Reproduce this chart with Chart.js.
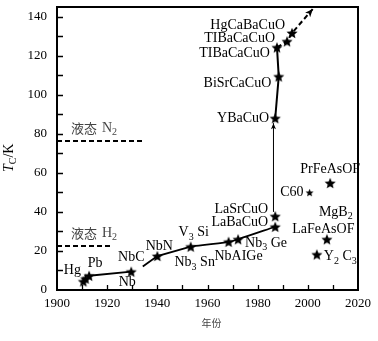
<!DOCTYPE html>
<html>
<head>
<meta charset="utf-8">
<script src="https://cdn.jsdelivr.net/npm/chart.js@4"></script>
<style>
html, body { margin: 0; padding: 0; background: #fff; }
#wrap { width: 378px; height: 341px; }
</style>
</head>
<body>
<div id="wrap"><canvas id="chart"></canvas></div>
<script>
// superconductors: year of discovery and Tc (K)
const materials = ['Hg', 'Hg', 'Pb', 'Nb', 'NbN', 'V3Si', 'NbAlGe', 'Nb3Ge', 'LaBaCuO', 'LaSrCuO',
    'YBaCuO', 'BiSrCaCuO', 'TlBaCaCuO', 'TlBaCaCuO', 'HgCaBaCuO', 'C60', 'PrFeAsOF', 'LaFeAsOF', 'Y2C3'];
const years = [1910.5, 1911.4, 1912.8, 1929.6, 1940, 1953.3, 1968.4, 1972.2, 1987, 1987,
    1987, 1988.4, 1987.7, 1991.7, 1993.7, 2000.7, 2008.9, 2007.6, 2003.6];
const tcValues = [4.4, 5.8, 7.3, 9.4, 17.4, 22.2, 24.7, 26, 32.4, 37.8,
    88, 109.4, 124.3, 127.4, 131.7, 49.9, 54.8, 26, 18.2];

// trend lines
const earlyYears = [1912.8, 1929.6];
const earlyTc = [7.3, 9.4];
const nitrideYears = [1934.2, 1940, 1953.3];
const nitrideTc = [12, 17.4, 22.2];
const a15Years = [1953.3, 1968.4, 1972.2, 1987];
const a15Tc = [22.2, 24.7, 26, 32.4];
const jumpYears = [1986.3, 1986.3];
const jumpTc = [40, 85.5];
const cuprateYears = [1987, 1988.4, 1987.7];
const cuprateTc = [88, 109.4, 124.3];
const trendYears = [1987.7, 1991.7, 1993.7, 2002];
const trendTc = [124.3, 127.4, 131.7, 144];

// liquid coolant levels
const n2Years = [1900, 1934.5];
const n2Tc = [76.3, 76.3];
const h2Years = [1900, 1921.5];
const h2Tc = [22.5, 22.5];

const xTicks = [1900, 1920, 1940, 1960, 1980, 2000, 2020];
const yTicks = [0, 20, 40, 60, 80, 100, 120, 140];

const serif = "'Liberation Serif', 'Times New Roman', serif";
const cjk = "'Noto Sans CJK SC', sans-serif";

function pts(xs, ys) {
    return xs.map((x, i) => ({ x: x, y: ys[i] }));
}

function starImage(r) {
    const c = document.createElement('canvas');
    const s = Math.ceil(r * 2) + 2;
    c.width = c.height = s;
    const g = c.getContext('2d');
    g.translate(s / 2, s / 2 + r * 0.1);
    g.beginPath();
    for (let i = 0; i < 10; i++) {
        const rad = i % 2 ? r * 0.45 : r;
        const a = -Math.PI / 2 + i * Math.PI / 5;
        g.lineTo(rad * Math.cos(a), rad * Math.sin(a));
    }
    g.closePath();
    g.fillStyle = '#000';
    g.fill();
    return c;
}
const bigStar = starImage(5.8);
const smallStar = starImage(4.2);

// 'Nb_3 Sn' -> Nb, subscript 3, ' Sn'
function drawRich(ctx, text, x, y, align, size, family) {
    const parts = [];
    text.split(/(_\w)/).forEach(s => {
        if (!s) return;
        if (s[0] === '_') parts.push([s.slice(1), true]);
        else parts.push([s, false]);
    });
    const main = size + 'px ' + family;
    const sub = Math.round(size * 0.72) + 'px ' + family;
    let w = 0;
    parts.forEach(p => { ctx.font = p[1] ? sub : main; w += ctx.measureText(p[0]).width; });
    let cx = align === 'right' ? x - w : align === 'center' ? x - w / 2 : x;
    ctx.textAlign = 'left';
    ctx.textBaseline = 'middle';
    parts.forEach(p => {
        ctx.font = p[1] ? sub : main;
        ctx.fillText(p[0], cx, p[1] ? y + size * 0.32 : y);
        cx += ctx.measureText(p[0]).width;
    });
    return w;
}

// labels: dataset, point, text, pixel offset, alignment
const labelPlacement = [
    [0, 0, 'Hg', -11, -11, 'center'],
    [0, 2, 'Pb', 6, -12, 'center'],
    [0, 3, 'Nb', -4, 11, 'center'],
    [0, 3, 'NbC', 0, -14, 'center'],
    [0, 4, 'NbN', 2, -10, 'center'],
    [0, 5, 'V_3 Si', 3, -14, 'center'],
    [0, 5, 'Nb_3 Sn', 4, 16, 'center'],
    [0, 6, 'NbAIGe', 10, 15, 'center'],
    [0, 7, 'Nb_3 Ge', 7, 4, 'left'],
    [0, 8, 'LaBaCuO', -7, -4.5, 'right'],
    [0, 9, 'LaSrCuO', -7, -7, 'right'],
    [0, 10, 'YBaCuO', -6, 0, 'right'],
    [0, 11, 'BiSrCaCuO', -7.5, 7, 'right'],
    [0, 12, 'TIBaCaCuO', -7, 6.3, 'right'],
    [0, 13, 'TIBaCaCuO', -12, -2.7, 'right'],
    [0, 14, 'HgCaBaCuO', -7, -7.3, 'right'],
    [0, 15, 'C60', -6, 0, 'right'],
    [0, 16, 'PrFeAsOF', 0, -14, 'center'],
    [0, 17, 'MgB_2', -8, -27, 'left'],
    [0, 17, 'LaFeAsOF', -34.7, -10, 'left'],
    [0, 18, 'Y_2 C_3', 7, 2, 'left']
];

const decor = {
    id: 'decor',
    afterDatasetsDraw(chart) {
        const ctx = chart.ctx;
        chart.data.datasets.forEach((ds, k) => {
            if (!ds.arrow) return;
            const el = chart.getDatasetMeta(k).data;
            const p = el[el.length - 1], q = el[el.length - 2];
            const ang = Math.atan2(p.y - q.y, p.x - q.x);
            const L = ds.arrow;
            ctx.save();
            ctx.fillStyle = '#000';
            ctx.translate(p.x, p.y);
            ctx.rotate(ang);
            ctx.beginPath();
            ctx.moveTo(0, 0);
            ctx.lineTo(-L, -L * 0.42);
            ctx.lineTo(-L * 0.75, 0);
            ctx.lineTo(-L, L * 0.42);
            ctx.closePath();
            ctx.fill();
            ctx.restore();
        });
    },
    afterDraw(chart) {
        const ctx = chart.ctx, a = chart.chartArea;
        const xs = chart.scales.x, ys = chart.scales.y;
        ctx.save();
        // inward ticks
        ctx.strokeStyle = '#000';
        ctx.lineWidth = 1.3;
        ctx.beginPath();
        xs.ticks.forEach(t => {
            if (t.value <= xs.min || t.value >= xs.max) return;
            const px = Math.round(xs.getPixelForValue(t.value)) + 0.5;
            ctx.moveTo(px, a.bottom);
            ctx.lineTo(px, a.bottom - 5);
        });
        ys.ticks.forEach(t => {
            if (t.value <= ys.min || t.value >= ys.max) return;
            const py = Math.round(ys.getPixelForValue(t.value)) + 0.5;
            ctx.moveTo(a.left, py);
            ctx.lineTo(a.left + 6, py);
        });
        ctx.stroke();
        // frame
        ctx.lineWidth = 2;
        ctx.strokeRect(a.left, a.top, a.right - a.left, a.bottom - a.top);

        // material labels
        ctx.fillStyle = '#000';
        labelPlacement.forEach(l => {
            const p = chart.getDatasetMeta(l[0]).data[l[1]];
            drawRich(ctx, l[2], p.x + l[3], p.y + l[4], l[5], 14, serif);
        });

        // coolant labels
        ctx.fillStyle = '#444';
        [[7, 'N_2'], [8, 'H_2']].forEach(c => {
            const p = chart.getDatasetMeta(c[0]).data[0];
            ctx.font = '13px ' + cjk;
            ctx.textAlign = 'left';
            ctx.textBaseline = 'middle';
            const x0 = p.x + 14, y0 = p.y - 13;
            ctx.fillText('液态', x0, y0);
            drawRich(ctx, c[1], x0 + ctx.measureText('液态').width + 5, y0, 'left', 14, serif);
        });

        // axis titles
        ctx.font = '10px ' + cjk;
        ctx.textAlign = 'center';
        ctx.textBaseline = 'middle';
        ctx.fillText('年份', (a.left + a.right) / 2 + 4, 323);

        ctx.fillStyle = '#000';
        ctx.translate(13, 172);
        ctx.rotate(-Math.PI / 2);
        ctx.textAlign = 'left';
        ctx.textBaseline = 'alphabetic';
        let cx = 0;
        ctx.font = 'italic 14px ' + serif;
        ctx.fillText('T', 0, 0);
        cx += ctx.measureText('T').width;
        ctx.font = '10px ' + serif;
        ctx.fillText('C', cx, 3);
        cx += ctx.measureText('C').width;
        ctx.font = '14px ' + serif;
        ctx.fillText('/K', cx, 0);
        ctx.restore();
    }
};

const lineStyle = {
    showLine: true,
    pointRadius: 0,
    borderColor: '#000',
    backgroundColor: '#000',
    fill: false
};

const ctx = document.getElementById('chart').getContext('2d');
new Chart(ctx, {
    type: 'scatter',
    data: {
        datasets: [
            {
                label: 'Tc',
                data: pts(years, tcValues),
                pointStyle: c => materials[c.dataIndex] === 'C60' ? smallStar : bigStar,
                pointRadius: 6,
                showLine: false
            },
            Object.assign({ data: pts(earlyYears, earlyTc), borderWidth: 1.8 }, lineStyle),
            Object.assign({ data: pts(nitrideYears, nitrideTc), borderWidth: 1.8 }, lineStyle),
            Object.assign({ data: pts(a15Years, a15Tc), borderWidth: 1.8, tension: 0.3 }, lineStyle),
            Object.assign({ data: pts(jumpYears, jumpTc), borderWidth: 1, arrow: 6 }, lineStyle),
            Object.assign({ data: pts(cuprateYears, cuprateTc), borderWidth: 2 }, lineStyle),
            Object.assign({ data: pts(trendYears, trendTc), borderWidth: 2, borderDash: [5, 3], arrow: 8 }, lineStyle),
            Object.assign({ data: pts(n2Years, n2Tc), borderWidth: 2, borderDash: [5, 3] }, lineStyle),
            Object.assign({ data: pts(h2Years, h2Tc), borderWidth: 2, borderDash: [5, 3] }, lineStyle)
        ]
    },
    options: {
        responsive: true,
        maintainAspectRatio: false,
        animation: false,
        layout: { padding: { left: 0, right: 20, top: 7, bottom: 0 } },
        plugins: {
            legend: { display: false },
            tooltip: { enabled: false }
        },
        scales: {
            x: {
                type: 'linear',
                min: 1900,
                max: 2020,
                grid: { display: false, drawTicks: false },
                border: { display: false },
                afterFit: s => {
                    s.height = 51;
                    s.paddingLeft = 0;
                    s.paddingRight = 0;
                },
                afterBuildTicks: s => {
                    const t = [];
                    for (let v = 1900; v <= 2020; v += 10) t.push({ value: v });
                    s.ticks = t;
                },
                ticks: {
                    padding: 6,
                    color: '#000',
                    maxRotation: 0,
                    minRotation: 0,
                    autoSkip: false,
                    font: { family: serif, size: 13 },
                    callback: v => xTicks.includes(v) ? String(v) : ''
                }
            },
            y: {
                type: 'linear',
                min: 0,
                max: 145,
                grid: { display: false, drawTicks: false },
                border: { display: false },
                afterFit: s => {
                    s.width = 57;
                    s.paddingTop = 0;
                    s.paddingBottom = 0;
                },
                afterBuildTicks: s => {
                    const t = [];
                    for (let v = 0; v <= 140; v += 10) t.push({ value: v });
                    s.ticks = t;
                },
                ticks: {
                    padding: 10,
                    color: '#000',
                    autoSkip: false,
                    font: { family: serif, size: 13 },
                    callback: v => yTicks.includes(v) ? String(v) : ''
                }
            }
        }
    },
    plugins: [decor]
});
</script>
</body>
</html>
